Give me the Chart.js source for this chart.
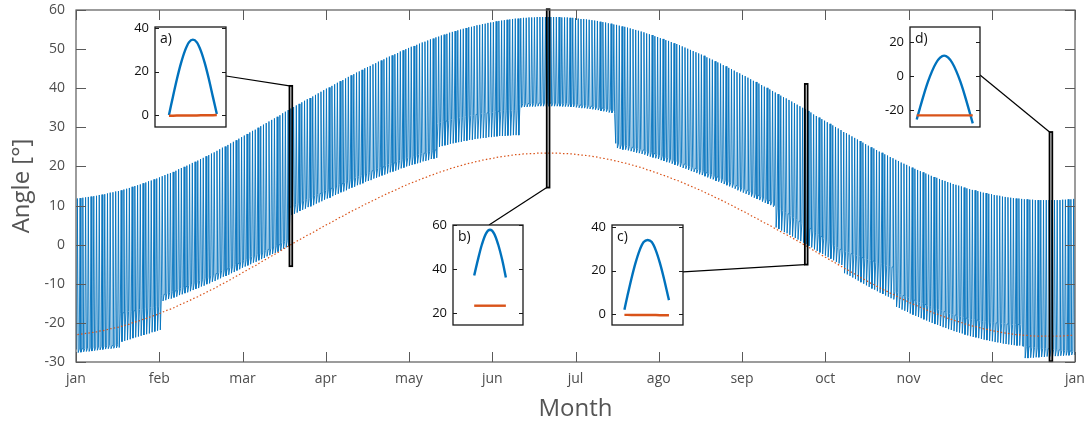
<!DOCTYPE html>
<html><head><meta charset="utf-8">
<script src="https://cdn.jsdelivr.net/npm/chart.js@4.4.1/dist/chart.umd.min.js"></script>
<style>
html,body{margin:0;padding:0;background:#fff;}
#wrap{position:relative;width:1087px;height:424px;overflow:hidden;background:#fff;}
canvas{position:absolute;}
</style></head><body>
<div id="wrap"><canvas id="main" width="1087" height="424" style="left:0;top:0"></canvas></div>
<script>
// ---------- data ----------
const monthLabels = ['jan','feb','mar','apr','may','jun','jul','ago','sep','oct','nov','dec','jan'];

// daily value of the orange (dotted) series, day 0 = 1 jan
const declination = [
-23.0,-22.9,-22.8,-22.7,-22.6,-22.5,-22.4,-22.3,-22.1,-22.0,
-21.9,-21.7,-21.5,-21.4,-21.2,-21.1,-20.9,-20.7,-20.5,-20.3,
-20.0,-19.8,-19.6,-19.4,-19.1,-18.9,-18.6,-18.4,-18.1,-17.9,
-17.6,-17.3,-17.0,-16.7,-16.5,-16.2,-15.9,-15.5,-15.2,-14.9,
-14.6,-14.3,-13.9,-13.6,-13.3,-12.9,-12.6,-12.2,-11.9,-11.5,
-11.2,-10.8,-10.4,-10.0,-9.7,-9.3,-8.9,-8.5,-8.1,-7.7,
-7.3,-6.9,-6.5,-6.1,-5.7,-5.4,-4.9,-4.5,-4.1,-3.7,
-3.3,-2.9,-2.5,-2.1,-1.7,-1.2,-0.8,-0.4,0.0,0.4,
0.8,1.2,1.6,2.0,2.4,2.7,3.1,3.5,3.9,4.3,
4.7,5.1,5.4,5.8,6.2,6.6,7.0,7.3,7.7,8.1,
8.5,8.8,9.2,9.5,9.9,10.3,10.6,10.9,11.3,11.6,
12.0,12.3,12.6,13.0,13.3,13.6,13.9,14.2,14.6,14.9,
15.2,15.5,15.8,16.0,16.3,16.6,16.9,17.1,17.4,17.7,
17.9,18.2,18.4,18.7,18.9,19.1,19.4,19.6,19.8,20.0,
20.2,20.4,20.6,20.8,20.9,21.1,21.3,21.4,21.6,21.7,
21.9,22.0,22.1,22.3,22.4,22.5,22.6,22.7,22.8,22.9,
23.0,23.0,23.1,23.2,23.2,23.3,23.3,23.3,23.4,23.4,
23.4,23.4,23.4,23.4,23.4,23.4,23.4,23.3,23.3,23.3,
23.2,23.2,23.1,23.0,22.9,22.9,22.8,22.7,22.6,22.5,
22.4,22.2,22.1,22.0,21.8,21.7,21.5,21.4,21.2,21.0,
20.9,20.7,20.5,20.3,20.1,19.9,19.7,19.5,19.2,19.0,
18.8,18.5,18.3,18.0,17.8,17.5,17.3,17.0,16.7,16.5,
16.2,15.9,15.6,15.3,15.0,14.7,14.4,14.1,13.8,13.5,
13.1,12.8,12.5,12.1,11.8,11.5,11.1,10.8,10.4,10.1,
9.7,9.3,9.0,8.6,8.3,7.9,7.5,7.1,6.8,6.4,
6.0,5.6,5.3,4.9,4.5,4.1,3.7,3.3,2.9,2.6,
2.2,1.8,1.4,1.0,0.6,0.2,-0.2,-0.6,-1.0,-1.5,
-1.9,-2.3,-2.7,-3.1,-3.5,-3.9,-4.3,-4.7,-5.1,-5.5,
-6.0,-6.3,-6.7,-7.1,-7.5,-7.9,-8.3,-8.7,-9.1,-9.5,
-9.9,-10.2,-10.6,-11.0,-11.3,-11.7,-12.0,-12.4,-12.7,-13.1,
-13.4,-13.8,-14.1,-14.4,-14.8,-15.1,-15.4,-15.7,-16.0,-16.3,
-16.6,-16.9,-17.2,-17.5,-17.7,-18.0,-18.3,-18.5,-18.8,-19.0,
-19.3,-19.5,-19.7,-19.9,-20.2,-20.4,-20.6,-20.8,-20.9,-21.1,
-21.3,-21.5,-21.6,-21.8,-21.9,-22.1,-22.2,-22.3,-22.5,-22.6,
-22.7,-22.8,-22.9,-23.0,-23.0,-23.1,-23.2,-23.2,-23.3,-23.3,
-23.4,-23.4,-23.4,-23.4,-23.4,-23.4,-23.4,-23.4,-23.4,-23.4,
-23.3,-23.3,-23.2,-23.2,-23.1
];

// daily top of the blue trace
const dailyMax = [
11.8,11.9,12.0,12.1,12.2,12.3,12.4,12.5,12.7,12.8,
12.9,13.1,13.3,13.4,13.6,13.7,13.9,14.1,14.3,14.5,
14.8,15.0,15.2,15.4,15.7,15.9,16.2,16.4,16.7,16.9,
17.2,17.5,17.8,18.1,18.3,18.6,18.9,19.3,19.6,19.9,
20.2,20.5,20.9,21.2,21.5,21.9,22.2,22.6,22.9,23.3,
23.6,24.0,24.4,24.8,25.1,25.5,25.9,26.3,26.7,27.1,
27.5,27.9,28.3,28.7,29.1,29.4,29.9,30.3,30.7,31.1,
31.5,31.9,32.3,32.7,33.1,33.6,34.0,34.4,34.8,35.2,
35.6,36.0,36.4,36.8,37.2,37.5,37.9,38.3,38.7,39.1,
39.5,39.9,40.2,40.6,41.0,41.4,41.8,42.1,42.5,42.9,
43.3,43.6,44.0,44.3,44.7,45.1,45.4,45.7,46.1,46.4,
46.8,47.1,47.4,47.8,48.1,48.4,48.7,49.0,49.4,49.7,
50.0,50.3,50.6,50.8,51.1,51.4,51.7,51.9,52.2,52.5,
52.7,53.0,53.2,53.5,53.7,53.9,54.2,54.4,54.6,54.8,
55.0,55.2,55.4,55.6,55.7,55.9,56.1,56.2,56.4,56.5,
56.7,56.8,56.9,57.1,57.2,57.3,57.4,57.5,57.6,57.7,
57.8,57.8,57.9,58.0,58.0,58.1,58.1,58.1,58.2,58.2,
58.2,58.2,58.2,58.2,58.2,58.2,58.2,58.1,58.1,58.1,
58.0,58.0,57.9,57.8,57.7,57.7,57.6,57.5,57.4,57.3,
57.2,57.0,56.9,56.8,56.6,56.5,56.3,56.2,56.0,55.8,
55.7,55.5,55.3,55.1,54.9,54.7,54.5,54.3,54.0,53.8,
53.6,53.3,53.1,52.8,52.6,52.3,52.1,51.8,51.5,51.3,
51.0,50.7,50.4,50.1,49.8,49.5,49.2,48.9,48.6,48.3,
47.9,47.6,47.3,46.9,46.6,46.3,45.9,45.6,45.2,44.9,
44.5,44.1,43.8,43.4,43.1,42.7,42.3,41.9,41.6,41.2,
40.8,40.4,40.1,39.7,39.3,38.9,38.5,38.1,37.7,37.4,
37.0,36.6,36.2,35.8,35.4,35.0,34.6,34.2,33.8,33.3,
32.9,32.5,32.1,31.7,31.3,30.9,30.5,30.1,29.7,29.3,
28.8,28.5,28.1,27.7,27.3,26.9,26.5,26.1,25.7,25.3,
24.9,24.6,24.2,23.8,23.5,23.1,22.8,22.4,22.1,21.7,
21.4,21.0,20.7,20.4,20.0,19.7,19.4,19.1,18.8,18.5,
18.2,17.9,17.6,17.3,17.1,16.8,16.5,16.3,16.0,15.8,
15.5,15.3,15.1,14.9,14.6,14.4,14.2,14.0,13.9,13.7,
13.5,13.3,13.2,13.0,12.9,12.7,12.6,12.5,12.3,12.2,
12.1,12.0,11.9,11.8,11.8,11.7,11.6,11.6,11.5,11.5,
11.4,11.4,11.4,11.4,11.4,11.4,11.4,11.4,11.4,11.4,
11.5,11.5,11.6,11.6,11.7
];

// daily first (morning) sample of the blue trace
const lowMorning = [
-26.8,-26.7,-26.6,-26.6,-26.5,-26.4,-26.3,-26.2,-26.2,-26.1,-26.0,-25.9,-25.8,-25.8,-25.7,-25.6,
-17.5,-17.4,-17.2,-17.1,-17.0,-16.9,-16.7,-16.6,-16.5,-16.3,-16.2,-16.1,-16.0,-15.8,-15.7,
-12.9,-12.7,-12.4,-12.3,-12.0,-11.8,-11.4,-11.2,-10.9,-10.7,-10.4,-10.1,-9.8,-9.6,-9.2,-9.0,
-8.6,-8.4,-8.0,-7.8,-7.4,-7.1,-6.7,-6.5,-6.2,-5.8,-5.5,-5.1,-4.8,-4.4,-4.1,-3.8,-3.5,-3.1,
-2.9,-2.5,-2.2,-1.9,-1.5,-1.2,-0.9,-0.6,-0.3,0.0,0.5,0.8,1.1,
9.6,9.9,10.2,10.6,10.9,11.2,11.6,11.8,12.1,12.5,12.8,13.1,13.5,13.8,14.0,14.4,14.7,15.0,
15.4,15.6,15.9,16.3,16.6,16.8,17.2,17.4,17.7,18.1,18.3,18.5,18.9,19.1,19.4,19.7,19.9,20.2,
20.5,20.7,20.9,21.2,21.5,21.7,22.0,22.2,22.4,22.6,22.8,23.0,23.3,23.4,23.6,23.9,24.0,24.2,
31.0,31.3,31.4,31.6,31.8,32.0,32.1,32.3,32.5,32.6,32.8,32.9,33.0,33.1,33.3,
33.4,33.5,33.6,33.7,33.8,33.8,34.0,34.1,34.1,34.2,34.2,34.3,34.3,34.4,34.4,
35.9,36.0,36.0,36.1,36.1,36.1,36.2,36.2,36.2,36.2,36.2,36.2,36.2,36.2,36.2,36.1,36.1,36.1,
36.0,36.0,35.9,35.8,35.7,35.7,35.6,35.5,35.4,35.3,35.2,35.0,34.9,34.8,34.6,34.5,34.3,
25.9,25.7,25.5,25.5,25.3,25.1,24.9,24.7,24.6,24.4,24.2,23.9,23.7,23.5,23.3,23.1,22.8,22.6,22.3,
22.2,21.9,21.6,21.4,21.1,20.8,20.6,20.3,20.0,19.8,19.5,19.2,19.0,18.7,18.4,18.1,17.9,17.5,17.3,
17.0,16.7,16.4,16.1,15.8,15.5,15.1,14.8,14.5,14.2,13.9,13.5,13.2,12.9,12.6,12.2,11.9,11.6,11.3,10.9,
10.1,9.6,9.2,8.7,8.3,7.9,7.4,6.9,6.4,6.0,5.5,5.0,4.6,4.1,3.5,3.0,2.6,2.1,1.6,1.2,0.7,0.2,-0.3,-0.7,-1.2,
-1.6,-1.8,-2.0,-2.3,-2.5,-2.8,-3.0,-3.3,-3.5,-3.8,-4.1,-4.2,-4.5,-4.7,-4.9,-5.1,-5.3,-5.5,-5.7,
-12.0,-12.3,-12.7,-13.0,-13.2,-13.6,-13.9,-14.2,-14.5,-14.8,-15.0,-15.3,-15.6,-15.9,-16.2,-16.4,
-16.6,-16.9,-17.1,-17.4,-17.6,-17.9,-18.0,-18.2,-18.4,-18.6,-18.8,-18.9,-19.1,-19.1,-19.3,-19.4,
-19.6,-19.6,-19.8,-19.8,-20.0,-20.0,-20.0,-20.2,-20.2,-20.3,-20.3,-20.4,-20.4,-20.4,-20.4,
-26.0,-26.1,-26.1,-26.2,-26.3,-26.4,-26.4,-26.5,-26.6,-26.6,-26.7,-26.8,-26.9,-26.9,-27.0,-27.1,-27.1,-27.2,-27.3
];

// daily last (evening) sample of the blue trace
const lowEvening = [
-27.6,-27.5,-27.4,-27.3,-27.3,-27.2,-27.1,-27.0,-26.9,-26.8,-26.7,-26.6,-26.6,-26.5,-26.4,-26.3,
-24.8,-24.6,-24.4,-24.2,-23.9,-23.7,-23.5,-23.3,-23.1,-22.9,-22.7,-22.4,-22.2,-22.0,-21.8,
-14.4,-14.2,-13.9,-13.8,-13.5,-13.3,-12.9,-12.7,-12.4,-12.2,-11.9,-11.6,-11.3,-11.1,-10.7,-10.5,
-10.1,-9.9,-9.5,-9.3,-8.9,-8.6,-8.2,-8.0,-7.7,-7.3,-7.0,-6.6,-6.3,-5.9,-5.6,-5.3,-5.0,-4.6,
-4.4,-4.0,-3.7,-3.4,-3.0,-2.7,-2.4,-2.1,-1.8,-1.5,-1.0,-0.7,-0.4,
7.6,7.9,8.2,8.6,8.9,9.2,9.6,9.8,10.1,10.5,10.8,11.1,11.5,11.8,12.0,12.4,12.7,13.0,
13.4,13.6,13.9,14.3,14.6,14.8,15.2,15.4,15.7,16.1,16.3,16.5,16.9,17.1,17.4,17.7,17.9,18.2,
18.5,18.7,18.9,19.2,19.5,19.7,20.0,20.2,20.4,20.6,20.8,21.0,21.3,21.4,21.6,21.9,22.0,22.2,
25.0,25.2,25.4,25.5,25.8,25.9,26.1,26.2,26.3,26.5,26.6,26.8,26.8,27.0,27.1,
27.2,27.3,27.3,27.5,27.5,27.6,27.7,27.8,27.8,27.8,27.9,27.9,28.0,28.0,28.0,
35.1,35.2,35.2,35.3,35.3,35.3,35.4,35.4,35.4,35.4,35.4,35.4,35.4,35.4,35.4,35.3,35.3,35.3,
35.2,35.2,35.1,35.0,34.9,34.9,34.8,34.7,34.6,34.5,34.4,34.2,34.1,34.0,33.8,33.7,33.5,
24.7,24.5,24.3,24.3,24.1,23.9,23.7,23.5,23.4,23.2,23.0,22.7,22.5,22.3,22.1,21.9,21.6,21.4,21.1,
21.0,20.7,20.4,20.2,19.9,19.6,19.4,19.1,18.8,18.6,18.3,18.0,17.8,17.5,17.2,16.9,16.7,16.3,16.1,
15.8,15.5,15.2,14.9,14.6,14.3,13.9,13.6,13.3,13.0,12.7,12.3,12.0,11.7,11.4,11.0,10.7,10.4,10.1,9.7,
4.4,4.0,3.6,3.2,2.9,2.5,2.1,1.7,1.3,0.9,0.5,0.1,-0.3,-0.7,-1.2,-1.6,-2.0,-2.4,-2.8,-3.2,-3.6,-4.0,-4.4,-4.8,-5.2,
-7.3,-7.6,-8.0,-8.4,-8.8,-9.2,-9.6,-10.0,-10.4,-10.8,-11.2,-11.5,-11.9,-12.3,-12.6,-13.0,-13.3,-13.7,-14.0,
-15.9,-16.2,-16.6,-16.9,-17.2,-17.6,-17.9,-18.2,-18.5,-18.8,-19.1,-19.4,-19.7,-20.0,-20.3,-20.5,
-20.8,-21.1,-21.3,-21.6,-21.8,-22.1,-22.3,-22.5,-22.7,-23.0,-23.2,-23.4,-23.6,-23.7,-23.9,-24.1,
-24.3,-24.4,-24.6,-24.7,-24.9,-25.0,-25.1,-25.3,-25.4,-25.5,-25.6,-25.7,-25.8,-25.8,-25.9,
-29.0,-29.0,-28.9,-28.9,-28.8,-28.8,-28.7,-28.7,-28.6,-28.6,-28.6,-28.5,-28.5,-28.4,-28.4,-28.3,-28.3,-28.2,-28.2
];

// insets: one day each (hours from solar noon)
const insetLetters = ['a)','b)','c)','d)'];
const insetDays = [78, 172, 266.3, 355.7];
const insetHoursA = [-6,-5,-4,-3,-2,-1,0,1,2,3,4,5,6];
const insetBlueA  = [0.0,8.5,16.6,23.8,29.6,33.5,34.8,33.5,29.6,23.8,16.6,8.5,0.5];
const insetRedA   = [-0.3,-0.3,-0.2,-0.2,-0.2,-0.2,-0.2,-0.2,-0.1,-0.1,-0.1,-0.1,0.0];
const insetHoursB = [-3.89,-3,-2,-1,0,1,2,3,3.89];
const insetBlueB  = [37.2,44.2,51.3,56.3,58.0,56.3,51.3,44.2,36.3];
const insetRedB   = [23.4,23.4,23.4,23.4,23.4,23.4,23.4,23.4,23.4];
const insetHoursC = [-5.74,-5,-4,-3,-2,-1,0,1,2,3,4,5,5.24];
const insetBlueC  = [2.0,8.3,16.4,23.6,29.4,33.2,34.2,33.2,29.4,23.6,16.4,8.3,6.4];
const insetRedC   = [-0.4,-0.4,-0.5,-0.5,-0.5,-0.5,-0.5,-0.5,-0.5,-0.6,-0.6,-0.6,-0.6];
const insetHoursD = [-6.75,-6,-5,-4,-3,-2,-1,0,1,2,3,4,5,6,7.02];
const insetBlueD  = [-25.4,-19.0,-10.8,-3.4,2.8,7.7,10.8,12.0,10.8,7.7,2.8,-3.4,-10.8,-19.0,-27.7];
const insetRedD   = [-23.0,-23.0,-23.0,-23.0,-23.0,-23.0,-23.0,-23.0,-23.0,-23.0,-23.0,-23.0,-23.0,-23.0,-23.0];
const insetYTicks = [[0,20,40],[20,40,60],[0,20,40],[-20,0,20]];
const insetYRange = [[-5.5,40.6],[14.6,60.2],[-5.1,41.1],[-29.8,28.8]];
const insetXRange = [[-9.5,8.3],[-9.1,8.1],[-8.8,8.7],[-8.4,8.8]];
// connector anchor on each inset (side, value)
const connectorInset = [['right',18],['top',-0.25],['right',19.4],['right',0.7]];
const connectorMarker = ['top','bottom','bottom','top'];

// ---------- layout ----------
const insetBoxes = [
  {left:155, top:27, w:71, h:100},
  {left:453, top:225, w:70, h:100},
  {left:612, top:225, w:71, h:100},
  {left:910, top:27, w:70, h:100}
];
const INSET_PAD_L = 36, INSET_PAD = 10;
const FONT = "'Open Sans', 'DejaVu Sans', sans-serif";
const BLUE = '#0072BD', ORANGE = '#D95319';
Chart.defaults.font.family = FONT;

const insetSets = [
  [insetHoursA, insetBlueA, insetRedA],
  [insetHoursB, insetBlueB, insetRedB],
  [insetHoursC, insetBlueC, insetRedC],
  [insetHoursD, insetBlueD, insetRedD]
];

const insetFrame = {
  id: 'insetFrame',
  beforeDatasetsDraw(chart) {
    const {ctx, chartArea: a} = chart;
    ctx.save(); ctx.fillStyle = '#fff';
    ctx.fillRect(a.left, a.top, a.right - a.left, a.bottom - a.top);
    ctx.restore();
  },
  afterDraw(chart, args, opts) {
    const {ctx, chartArea: a, scales: {y}} = chart;
    ctx.save();
    ctx.strokeStyle = '#1a1a1a'; ctx.lineWidth = 1.3;
    ctx.strokeRect(a.left, a.top, a.right - a.left, a.bottom - a.top);
    ctx.lineWidth = 1;
    y.ticks.forEach(t => {
      const py = Math.round(y.getPixelForValue(t.value)) + 0.5;
      ctx.beginPath();
      ctx.moveTo(a.left, py); ctx.lineTo(a.left + 4, py);
      ctx.moveTo(a.right, py); ctx.lineTo(a.right - 4, py);
      ctx.stroke();
    });
    ctx.fillStyle = '#111'; ctx.font = '14px ' + FONT; ctx.textBaseline = 'alphabetic';
    ctx.fillText(opts.letter, a.left + 5, a.top + 16);
    ctx.restore();
  }
};

const zeroPad = s => { s.paddingTop = 0; s.paddingBottom = 0; s.paddingLeft = 0; s.paddingRight = 0; };

const wrap = document.getElementById('wrap');
const insetCharts = [];
const insetOffsets = [];
insetBoxes.forEach((box, i) => {
  const cv = document.createElement('canvas');
  const W = box.w + INSET_PAD_L + INSET_PAD, H = box.h + 2 * INSET_PAD;
  cv.width = W; cv.height = H;
  const ox = box.left - INSET_PAD_L, oy = box.top - INSET_PAD;
  cv.style.left = ox + 'px'; cv.style.top = oy + 'px';
  wrap.appendChild(cv);
  insetOffsets.push([ox, oy]);
  const [hrs, blue, red] = insetSets[i];
  const ch = new Chart(cv, {
    type: 'line',
    data: { datasets: [
      { data: hrs.map((h, k) => ({x: h, y: red[k]})), borderColor: ORANGE, borderWidth: 2.4, pointRadius: 0, order: 0 },
      { data: hrs.map((h, k) => ({x: h, y: blue[k]})), borderColor: BLUE, borderWidth: 2.4, pointRadius: 0, order: 1, tension: 0.3 }
    ]},
    options: {
      responsive: false, animation: false, devicePixelRatio: 1,
      layout: { padding: { left: 0, right: INSET_PAD, top: INSET_PAD, bottom: INSET_PAD } },
      plugins: { legend: {display: false}, tooltip: {enabled: false}, insetFrame: {letter: insetLetters[i]} },
      scales: {
        x: { type: 'linear', display: false, min: insetXRange[i][0], max: insetXRange[i][1] },
        y: { type: 'linear', min: insetYRange[i][0], max: insetYRange[i][1],
             afterBuildTicks: s => { s.ticks = insetYTicks[i].map(v => ({value: v})); },
             afterFit: s => { s.width = INSET_PAD_L; zeroPad(s); },
             grid: {display: false, drawTicks: false}, border: {display: false},
             ticks: { color: '#111', font: {size: 13}, padding: 6 } }
      }
    },
    plugins: [insetFrame]
  });
  insetCharts.push(ch);
});

// ---------- main chart ----------
const xOf = d => d * 12 / 365;
const N = Math.min(dailyMax.length, lowMorning.length, lowEvening.length);
const bluePts = [];
for (let d = 0; d < N; d++) {
  bluePts.push({x: xOf(d + 0.2), y: lowMorning[d]});
  bluePts.push({x: xOf(d + 0.5), y: dailyMax[d]});
  bluePts.push({x: xOf(d + 0.8), y: lowEvening[d]});
}
const redPts = declination.map((v, d) => ({x: xOf(d + 0.5), y: v}));

const mainFrame = {
  id: 'mainFrame',
  afterDraw(chart) {
    const {ctx, chartArea: a, scales: {x, y}} = chart;
    ctx.save();
    // markers + connectors
    insetDays.forEach((day, i) => {
      const x0 = x.getPixelForValue(xOf(day)), x1 = x.getPixelForValue(xOf(day + 1));
      const yT = y.getPixelForValue(insetYRange[i][1]), yB = y.getPixelForValue(insetYRange[i][0]);
      ctx.strokeStyle = '#000'; ctx.lineWidth = 1.8;
      ctx.strokeRect(x0, yT, x1 - x0, yB - yT);
      const ic = insetCharts[i], [ox, oy] = insetOffsets[i], ca = ic.chartArea;
      const [side, v] = connectorInset[i];
      let px, py;
      if (side === 'right') { px = ox + ca.right; py = oy + ic.scales.y.getPixelForValue(v); }
      else { px = ox + ic.scales.x.getPixelForValue(v); py = oy + ca.top; }
      const my = connectorMarker[i] === 'top' ? yT : yB;
      ctx.lineWidth = 1.2;
      ctx.beginPath(); ctx.moveTo(px, py); ctx.lineTo(x0, my); ctx.stroke();
    });
    // axes box + inward ticks
    ctx.strokeStyle = '#5a5a5a'; ctx.lineWidth = 1.2;
    ctx.strokeRect(a.left, a.top, a.right - a.left, a.bottom - a.top);
    ctx.lineWidth = 1;
    ctx.beginPath();
    y.ticks.forEach(t => {
      const py = Math.round(y.getPixelForValue(t.value)) + 0.5;
      ctx.moveTo(a.left, py); ctx.lineTo(a.left + 10, py);
      ctx.moveTo(a.right, py); ctx.lineTo(a.right - 10, py);
    });
    x.ticks.forEach(t => {
      const px = Math.round(x.getPixelForValue(t.value)) + 0.5;
      ctx.moveTo(px, a.bottom); ctx.lineTo(px, a.bottom - 10);
      ctx.moveTo(px, a.top); ctx.lineTo(px, a.top + 10);
    });
    ctx.stroke();
    ctx.restore();
  }
};

new Chart(document.getElementById('main'), {
  type: 'line',
  data: { datasets: [
    { data: redPts, borderColor: ORANGE, borderWidth: 1.2, borderDash: [1.5, 2.2], pointRadius: 0, order: 0 },
    { data: bluePts, borderColor: BLUE, borderWidth: 0.9, pointRadius: 0, order: 1 }
  ]},
  options: {
    responsive: false, animation: false, devicePixelRatio: 1,
    layout: { padding: { left: 0, right: 12, top: 10, bottom: 0 } },
    plugins: { legend: {display: false}, tooltip: {enabled: false} },
    elements: { line: { tension: 0 } },
    scales: {
      x: { type: 'linear', min: 0, max: 12,
           afterBuildTicks: s => { s.ticks = monthLabels.map((_, i) => ({value: i})); },
           afterFit: s => { s.height = 62; zeroPad(s); },
           grid: {display: false, drawTicks: false}, border: {display: false},
           ticks: { callback: v => monthLabels[Math.round(v)], color: '#4d4d4d', font: {size: 14}, padding: 9, maxRotation: 0, autoSkip: false },
           title: { display: true, text: 'Month', color: '#555', font: {size: 24}, padding: {top: 0, bottom: 0} } },
      y: { type: 'linear', min: -30, max: 60,
           afterFit: s => { s.width = 76; zeroPad(s); },
           grid: {display: false, drawTicks: false}, border: {display: false},
           ticks: { stepSize: 10, color: '#4d4d4d', font: {size: 14}, padding: 11 },
           title: { display: true, text: 'Angle [°]', color: '#555', font: {size: 24}, padding: {top: 8, bottom: 0} } }
    }
  },
  plugins: [mainFrame]
});
</script>
</body></html>
